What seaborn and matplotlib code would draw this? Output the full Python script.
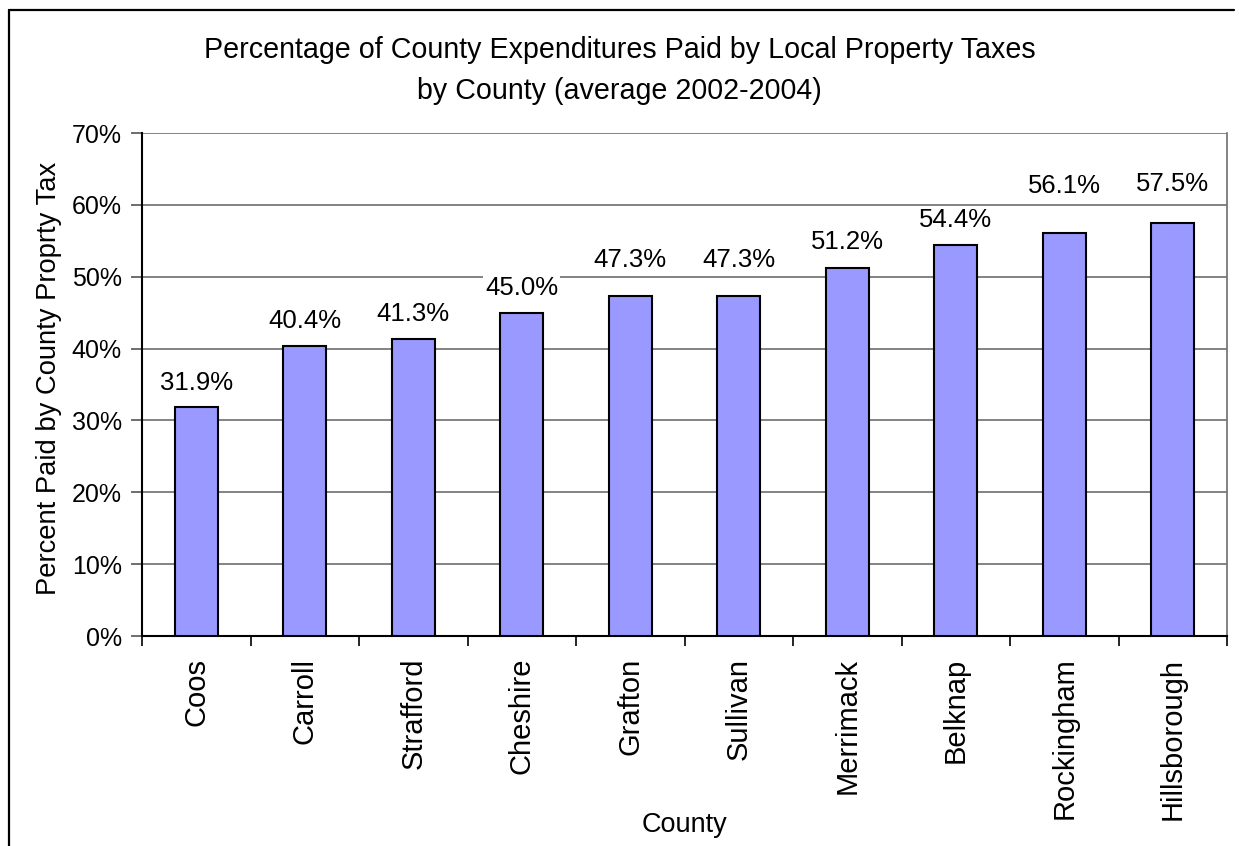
import matplotlib
matplotlib.use("Agg")
import matplotlib.pyplot as plt
from matplotlib.lines import Line2D
from matplotlib.ticker import FixedLocator, PercentFormatter
import seaborn as sns
import pandas as pd

counties = ["Coos", "Carroll", "Strafford", "Cheshire", "Grafton",
            "Sullivan", "Merrimack", "Belknap", "Rockingham", "Hillsborough"]
pct_paid = [31.9, 40.4, 41.3, 45.0, 47.3, 47.3, 51.2, 54.4, 56.1, 57.5]
y_ticks = [0, 10, 20, 30, 40, 50, 60, 70]

# vertical lift of each value label above its bar, in points
label_lift = [17, 18, 18, 18, 26, 26, 19, 18, 34, 28]

df = pd.DataFrame({"County": counties, "Pct": pct_paid})

sns.set_theme(style="white")
plt.rcParams["font.family"] = ["Liberation Sans", "DejaVu Sans"]
plt.rcParams["text.color"] = "black"
plt.rcParams["axes.labelcolor"] = "black"
plt.rcParams["xtick.color"] = "black"
plt.rcParams["ytick.color"] = "black"

fig = plt.figure(figsize=(12.39, 8.46), dpi=100)
ax = fig.add_axes([142 / 1239, 1 - 636 / 846, (1227 - 142) / 1239, (636 - 133) / 846])

sns.barplot(data=df, x="County", y="Pct", ax=ax, width=0.4,
            color="#9999FF", saturation=1, edgecolor="black", linewidth=1.5,
            zorder=3)

ax.set_xlim(-0.5, len(counties) - 0.5)
ax.set_ylim(0, 70)
ax.set_yticks(y_ticks)
ax.yaxis.set_major_formatter(PercentFormatter(decimals=0))
ax.grid(axis="y", color="#6e6e6e", linewidth=1.2, zorder=0)
ax.set_axisbelow(True)

# category labels at the bar centres, tick marks at the category boundaries
ax.set_xticks(range(len(counties)))
ax.set_xticklabels(counties, rotation=90, fontsize=21)
ax.tick_params(axis="x", which="major", length=0, pad=15.5)
ax.xaxis.set_minor_locator(FixedLocator([i - 0.5 for i in range(len(counties) + 1)]))
ax.tick_params(axis="x", which="minor", bottom=True, length=7, width=1.2, color="black")
ax.tick_params(axis="y", which="major", left=True, length=8, width=1.2, color="#555555",
               labelsize=18, pad=6.5)

for side in ["left", "bottom"]:
    ax.spines[side].set_color("black")
    ax.spines[side].set_linewidth(1.5)
ax.spines["top"].set_visible(False)
ax.spines["right"].set_color("#6e6e6e")
ax.spines["right"].set_linewidth(1.2)

ax.set_xlabel("County", fontsize=19.5)
ax.xaxis.set_label_coords(0.5, -0.35)
ax.set_ylabel("Percent Paid by County Proprty Tax", fontsize=19.7)
ax.yaxis.set_label_coords(-0.0736, 0.513)

for i, (v, lift) in enumerate(zip(pct_paid, label_lift)):
    ax.annotate(f"{v:.1f}%", xy=(i, v), xytext=(0, lift), textcoords="offset points",
                ha="center", va="center", fontsize=18.5, color="black", zorder=4,
                bbox=dict(facecolor="white", edgecolor="none", pad=1.5))

fig.text(0.5, 1 - 70.5 / 846,
         "Percentage of County Expenditures Paid by Local Property Taxes\nby County (average 2002-2004)",
         ha="center", va="center", fontsize=20.6, linespacing=1.56)

# chart-area frame (left and top edges)
fig.add_artist(Line2D([9 / 1239, 9 / 1239], [0, 1 - 10 / 846], transform=fig.transFigure,
                      color="black", linewidth=1.6))
fig.add_artist(Line2D([9 / 1239, 1234 / 1239], [1 - 10 / 846, 1 - 10 / 846],
                      transform=fig.transFigure, color="black", linewidth=1.6))

fig.savefig("out.png", dpi=100, facecolor="white")
